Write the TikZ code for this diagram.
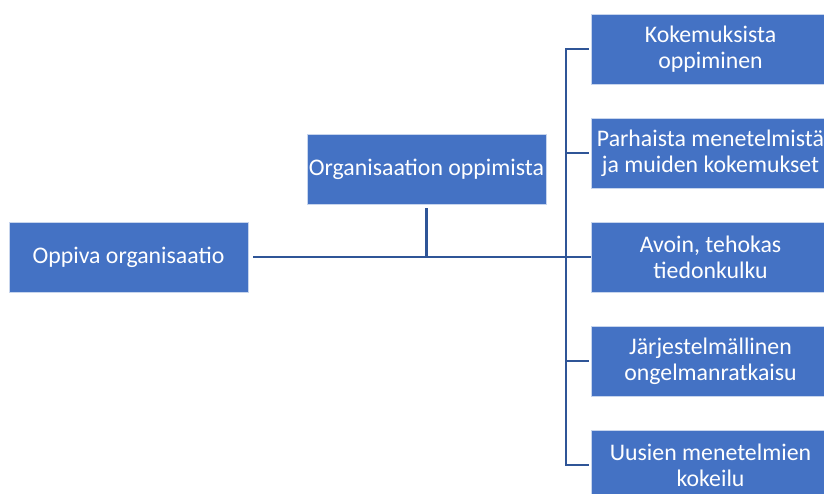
\documentclass[tikz,border=0pt]{standalone}
\usepackage{fontspec}
\setmainfont{Carlito}
\definecolor{boxblue}{RGB}{68,114,196}
\definecolor{lineblue}{RGB}{47,85,151}
\begin{document}
\begin{tikzpicture}[x=1pt,y=-1pt,
  box/.style={draw=white!70!boxblue, line width=0.8pt, fill=boxblue, text=white,
    minimum width=239pt, minimum height=70pt, inner sep=0pt, align=center,
    font=\fontsize{23.8}{26}\selectfont},
  link/.style={draw=lineblue, line width=2.6pt, line join=miter}]
\useasboundingbox (0,0) rectangle (824,493);
\clip (0,0) rectangle (824,493);

% left and middle boxes
\node[box] (oppiva) at (128.5,257) {Oppiva organisaatio};
\node[box] (org) at (426.5,169) {Organisaation oppimista};

% right column
\node[box] (r1) at (710.5,49)  {Kokemuksista\\oppiminen};
\node[box] (r2) at (710.5,153) {Parhaista menetelmistä\\ja muiden kokemukset};
\node[box] (r3) at (710.5,257) {Avoin, tehokas\\tiedonkulku};
\node[box] (r4) at (710.5,361) {Järjestelmällinen\\ongelmanratkaisu};
\node[box] (r5) at (710.5,465) {Uusien menetelmien\\kokeilu};

% connectors
\coordinate (bus) at (566,0);
\draw[link] ([xshift=5pt]oppiva.east) -- (r3.west);
\draw[link] ([yshift=-4pt]org.south) -- (org.south |- oppiva.east);
\draw[link] ([xshift=-2pt]r1.west) -- (bus |- r1.west) -- (bus |- r5.west) -- ([xshift=-2pt]r5.west);
\draw[link] (bus |- r2.west) -- ([xshift=-2pt]r2.west);
\draw[link] (bus |- r4.west) -- ([xshift=-2pt]r4.west);
\end{tikzpicture}
\end{document}
